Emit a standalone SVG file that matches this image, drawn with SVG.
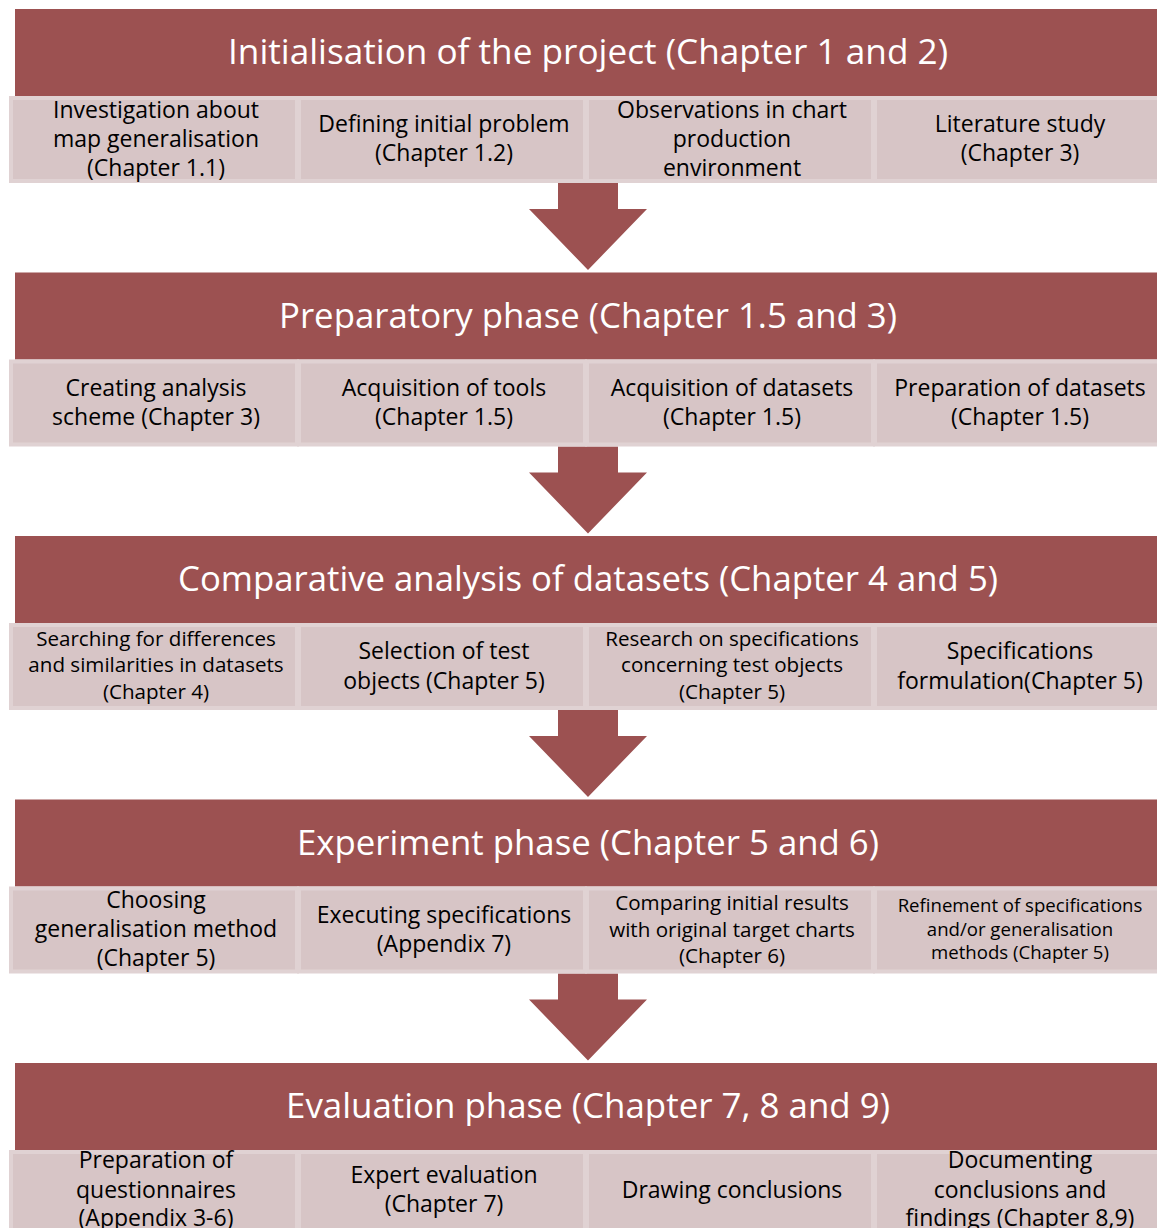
<svg xmlns="http://www.w3.org/2000/svg" width="1157" height="1228" viewBox="0 0 1157 1228">
<style>
.hdr{fill:#9C5151}
.htx{fill:#FFFFFF;font-family:"Open Sans","Noto Sans",sans-serif;font-size:34px;text-anchor:middle}
.box{fill:#D7C5C6;stroke:#E0D2D3;stroke-width:4}
.btx{fill:#000000;font-family:"Open Sans","Noto Sans",sans-serif;font-size:23px;text-anchor:middle}
.sm{font-size:20.6px}
.xs{font-size:18.6px}
.arr{fill:#9C5151}
</style>
<rect width="1157" height="1228" fill="#FFFFFF"/>
<g id="connectors">
<path class="arr" d="M558,183 H618 V209 H647 L588,270 L529,209 H558 Z"/>
<path class="arr" d="M558,446.5 H618 V472.5 H647 L588,533.5 L529,472.5 H558 Z"/>
<path class="arr" d="M558,710 H618 V736 H647 L588,797 L529,736 H558 Z"/>
<path class="arr" d="M558,973.5 H618 V999.5 H647 L588,1060.5 L529,999.5 H558 Z"/>
</g>

<g id="phase1">
<rect class="hdr" x="15" y="9" width="1142" height="87"/>
<text class="htx" x="588" y="64" textLength="720" lengthAdjust="spacingAndGlyphs">Initialisation of the project (Chapter 1 and 2)</text>
</g>
<g id="p1b1"><rect class="box" x="11" y="98" width="286" height="83"/>
<text class="btx" x="156" y="118">Investigation about</text><text class="btx" x="156" y="147">map generalisation</text><text class="btx" x="156" y="176">(Chapter 1.1)</text></g>
<g id="p1b2"><rect class="box" x="299" y="98" width="286" height="83"/>
<text class="btx" x="444" y="132">Defining initial problem</text><text class="btx" x="444" y="161">(Chapter 1.2)</text></g>
<g id="p1b3"><rect class="box" x="587" y="98" width="286" height="83"/>
<text class="btx" x="732" y="118">Observations in chart</text><text class="btx" x="732" y="147">production</text><text class="btx" x="732" y="176">environment</text></g>
<g id="p1b4"><rect class="box" x="875" y="98" width="286" height="83"/>
<text class="btx" x="1020" y="132">Literature study</text><text class="btx" x="1020" y="161">(Chapter 3)</text></g>

<g id="phase2">
<rect class="hdr" x="15" y="272.5" width="1142" height="87"/>
<text class="htx" x="588" y="327.5" textLength="618" lengthAdjust="spacingAndGlyphs">Preparatory phase (Chapter 1.5 and 3)</text>
</g>
<g id="p2b1"><rect class="box" x="11" y="361.5" width="286" height="83"/>
<text class="btx" x="156" y="396">Creating analysis</text><text class="btx" x="156" y="425">scheme (Chapter 3)</text></g>
<g id="p2b2"><rect class="box" x="299" y="361.5" width="286" height="83"/>
<text class="btx" x="444" y="396">Acquisition of tools</text><text class="btx" x="444" y="425">(Chapter 1.5)</text></g>
<g id="p2b3"><rect class="box" x="587" y="361.5" width="286" height="83"/>
<text class="btx" x="732" y="396">Acquisition of datasets</text><text class="btx" x="732" y="425">(Chapter 1.5)</text></g>
<g id="p2b4"><rect class="box" x="875" y="361.5" width="286" height="83"/>
<text class="btx" x="1020" y="396">Preparation of datasets</text><text class="btx" x="1020" y="425">(Chapter 1.5)</text></g>

<g id="phase3">
<rect class="hdr" x="15" y="536" width="1142" height="87"/>
<text class="htx" x="588" y="591" textLength="820" lengthAdjust="spacingAndGlyphs">Comparative analysis of datasets (Chapter 4 and 5)</text>
</g>
<g id="p3b1"><rect class="box" x="11" y="625" width="286" height="83"/>
<text class="btx sm" x="156" y="646">Searching for differences</text><text class="btx sm" x="156" y="672">and similarities in datasets</text><text class="btx sm" x="156" y="699">(Chapter 4)</text></g>
<g id="p3b2"><rect class="box" x="299" y="625" width="286" height="83"/>
<text class="btx" x="444" y="659">Selection of test</text><text class="btx" x="444" y="689">objects (Chapter 5)</text></g>
<g id="p3b3"><rect class="box" x="587" y="625" width="286" height="83"/>
<text class="btx sm" x="732" y="646">Research on specifications</text><text class="btx sm" x="732" y="672">concerning test objects</text><text class="btx sm" x="732" y="699">(Chapter 5)</text></g>
<g id="p3b4"><rect class="box" x="875" y="625" width="286" height="83"/>
<text class="btx" x="1020" y="659">Specifications</text><text class="btx" x="1020" y="689">formulation(Chapter 5)</text></g>

<g id="phase4">
<rect class="hdr" x="15" y="799.5" width="1142" height="87"/>
<text class="htx" x="588" y="854.5" textLength="582" lengthAdjust="spacingAndGlyphs">Experiment phase (Chapter 5 and 6)</text>
</g>
<g id="p4b1"><rect class="box" x="11" y="888.5" width="286" height="83"/>
<text class="btx" x="156" y="908">Choosing</text><text class="btx" x="156" y="937">generalisation method</text><text class="btx" x="156" y="966">(Chapter 5)</text></g>
<g id="p4b2"><rect class="box" x="299" y="888.5" width="286" height="83"/>
<text class="btx" x="444" y="923">Executing specifications</text><text class="btx" x="444" y="952">(Appendix 7)</text></g>
<g id="p4b3"><rect class="box" x="587" y="888.5" width="286" height="83"/>
<text class="btx sm" x="732" y="910">Comparing initial results</text><text class="btx sm" x="732" y="937">with original target charts</text><text class="btx sm" x="732" y="963">(Chapter 6)</text></g>
<g id="p4b4"><rect class="box" x="875" y="888.5" width="286" height="83"/>
<text class="btx xs" x="1020" y="912">Refinement of specifications</text><text class="btx xs" x="1020" y="936">and/or generalisation</text><text class="btx xs" x="1020" y="959">methods (Chapter 5)</text></g>

<g id="phase5">
<rect class="hdr" x="15" y="1063" width="1142" height="87"/>
<text class="htx" x="588" y="1118" textLength="604" lengthAdjust="spacingAndGlyphs">Evaluation phase (Chapter 7, 8 and 9)</text>
</g>
<g id="p5b1"><rect class="box" x="11" y="1152" width="286" height="83"/>
<text class="btx" x="156" y="1168">Preparation of</text><text class="btx" x="156" y="1198">questionnaires</text><text class="btx" x="156" y="1226">(Appendix 3-6)</text></g>
<g id="p5b2"><rect class="box" x="299" y="1152" width="286" height="83"/>
<text class="btx" x="444" y="1183">Expert evaluation</text><text class="btx" x="444" y="1212">(Chapter 7)</text></g>
<g id="p5b3"><rect class="box" x="587" y="1152" width="286" height="83"/>
<text class="btx" x="732" y="1198">Drawing conclusions</text></g>
<g id="p5b4"><rect class="box" x="875" y="1152" width="286" height="83"/>
<text class="btx" x="1020" y="1168">Documenting</text><text class="btx" x="1020" y="1198">conclusions and</text><text class="btx" x="1020" y="1226">findings (Chapter 8,9)</text></g>
</svg>
